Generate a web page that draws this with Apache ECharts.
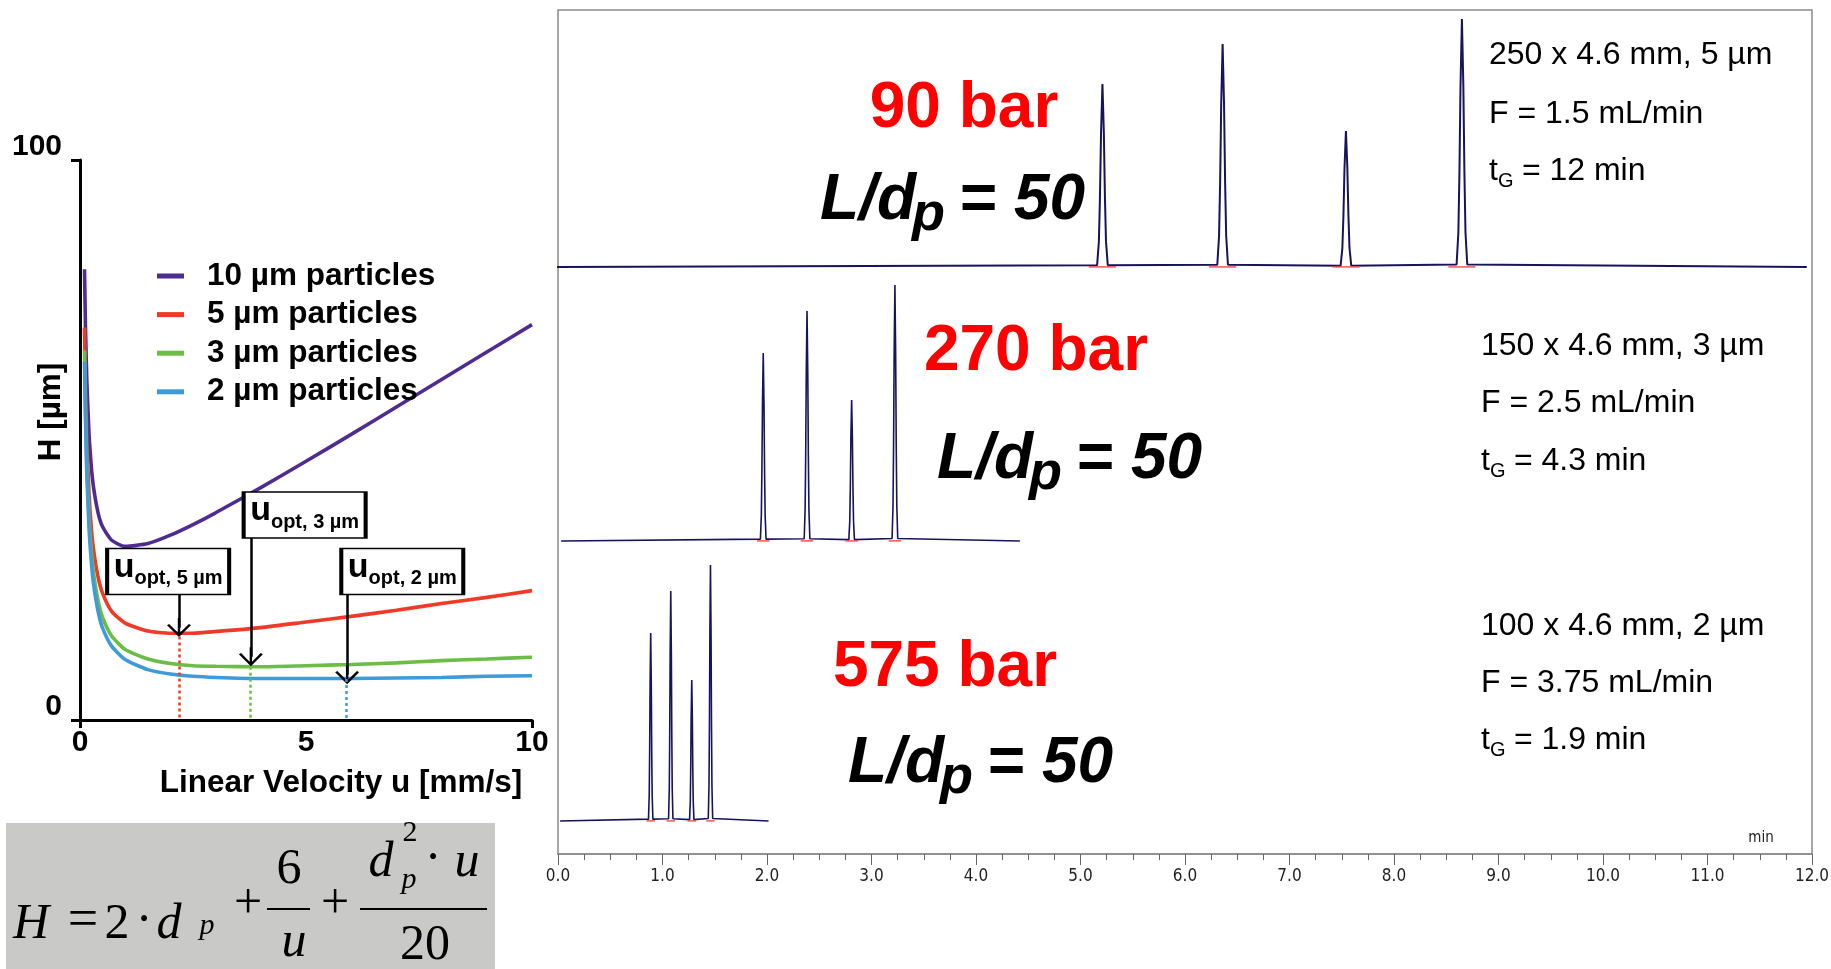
<!DOCTYPE html>
<html>
<head>
<meta charset="utf-8">
<title>van Deemter curves and chromatograms</title>
<script src="https://cdn.jsdelivr.net/npm/echarts@6.0.0/dist/echarts.min.js"></script>
<style>
  html, body { margin: 0; padding: 0; background: #fff; }
  #chart { width: 1831px; height: 969px; }
</style>
</head>
<body>
<div id="chart"></div>
<script>
// ---- left panel: plate height H [µm] vs linear velocity u [mm/s] ----
var velocity = [0.1, 0.12, 0.15, 0.2, 0.25, 0.3, 0.4, 0.5, 0.7, 1, 1.5, 2, 2.5, 3, 4, 5, 6, 7, 8, 9, 10];
var h10um = [80.5, 70.6, 60.8, 51.0, 45.3, 41.5, 37.0, 34.5, 32.1, 31.0, 31.5, 33.0, 34.9, 37.0, 41.5, 46.2, 51.0, 55.9, 60.8, 65.7, 70.6];
var h5um = [70.1, 60.2, 50.2, 40.3, 34.3, 30.4, 25.5, 22.6, 19.4, 17.3, 15.9, 15.5, 15.5, 15.8, 16.5, 17.5, 18.5, 19.6, 20.8, 21.9, 23.1];
var h3um = [66.0, 56.1, 46.1, 36.1, 30.3, 26.2, 21.3, 18.3, 15.0, 12.6, 10.9, 10.1, 9.7, 9.6, 9.5, 9.7, 9.9, 10.2, 10.6, 10.9, 11.2];
var h2um = [64.0, 54.0, 44.1, 34.2, 28.3, 24.3, 19.4, 16.4, 13.2, 10.8, 9.0, 8.2, 7.8, 7.6, 7.4, 7.4, 7.4, 7.5, 7.6, 7.8, 7.9];
var curveNames = ['10 µm particles', '5 µm particles', '3 µm particles', '2 µm particles'];
var curveColors = ['#4f2c92', '#ee3a26', '#6bbd45', '#3f9ad9'];

// optimum velocities marked for 5, 3 and 2 µm
var uOpt = [2.19, 3.76, 5.9];
var hMin = [14.9, 9.5, 7.3];
var uOptLabels = ['opt, 5 µm', 'opt, 3 µm', 'opt, 2 µm'];

// ---- right panel: chromatograms, time [min] ----
var timeTicks = [0, 12];
var trace90Range = [-0.05, 11.95];
var trace90Times = [5.21, 6.36, 7.54, 8.65];
var trace90Heights = [183, 223, 136, 248];
var trace270Range = [0.03, 4.42];
var trace270Times = [1.964, 2.383, 2.81, 3.224];
var trace270Heights = [188, 230, 141, 256];
var trace575Range = [0.02, 2.015];
var trace575Times = [0.887, 1.079, 1.28, 1.459];
var trace575Heights = [188, 230, 141, 256];

var pressureLabels = ['90 bar', '270 bar', '575 bar'];
var columnLabels = ['250 x 4.6 mm, 5 µm', '150 x 4.6 mm, 3 µm', '100 x 4.6 mm, 2 µm'];
var flowLabels = ['F = 1.5 mL/min', 'F = 2.5 mL/min', 'F = 3.75 mL/min'];
var gradientLabels = [' = 12 min', ' = 4.3 min', ' = 1.9 min'];

var SANS = "'Liberation Sans', Arial, sans-serif";
var NARROW = "'Liberation Sans Narrow', 'DejaVu Sans Condensed', 'Liberation Sans', sans-serif";
var SERIF = "'Liberation Serif', 'Times New Roman', serif";

// open arrow head with a short stem, pointing up (markLine rotates it)
var ARROW = 'path://M5,0 L10,7.5 L9.1,8.3 L5.5,2.9 L5.5,12 L4.5,12 L4.5,2.9 L0.9,8.3 L0,7.5 Z';

// drawing template for one chromatographic peak: [offset in sigmas, fraction of height]
var peakShape = [[-3, 0.01], [-2, 0.14], [-1.4, 0.38], [-0.8, 0.73], [0, 1], [0.8, 0.73], [1.4, 0.38], [2, 0.14], [3, 0.01]];

function buildTrace(range, times, heights, sigma) {
    var pts = [[range[0], 0]];
    times.forEach(function (t, i) {
        peakShape.forEach(function (p) {
            pts.push([t + p[0] * sigma, heights[i] * p[1]]);
        });
    });
    pts.push([range[1], 0]);
    return pts;
}

function buildMarks(times, half) {
    var pts = [];
    times.forEach(function (t) {
        pts.push([t - half, 0], [t + half, 0], [t + half, '-']);
    });
    return pts;
}

function zip(xs, ys) {
    return xs.map(function (x, i) { return [x, ys[i]]; });
}

var dom = document.getElementById('chart');
var myChart = echarts.init(dom, null, { renderer: 'canvas' });

// boxes + arrows + dotted drop lines for the optimum velocities
function optMarks(k, box, arrowFrom, arrowTip) {
    var color = curveColors[k + 1];
    return {
        markLine: {
            silent: true,
            animation: false,
            symbol: ['none', 'none'],
            label: { show: false },
            data: [
                [
                    { coord: [arrowFrom[0], arrowFrom[1]], symbol: 'none', lineStyle: { color: '#000', width: 2.5, type: 'solid' } },
                    { coord: [arrowFrom[0], arrowTip], symbol: ARROW, symbolSize: [24, 19] }
                ],
                [
                    { coord: [uOpt[k], hMin[k]], symbol: 'none', lineStyle: { color: color, width: 2.5, type: [3, 3] } },
                    { coord: [uOpt[k], 0], symbol: 'none' }
                ]
            ]
        },
        markPoint: {
            silent: true,
            animation: false,
            data: [{
                coord: box,
                symbol: 'rect',
                symbolSize: [122, 46],
                itemStyle: { color: '#fff', borderColor: '#000', borderWidth: 2.5 },
                label: {
                    show: true,
                    position: 'inside',
                    offset: [0, -4],
                    formatter: '{u|u}{s|' + uOptLabels[k] + '}',
                    rich: {
                        u: { fontSize: 34, fontWeight: 'bold', fontFamily: SANS, color: '#000', verticalAlign: 'top', lineHeight: 34 },
                        s: { fontSize: 20, fontWeight: 'bold', fontFamily: SANS, color: '#000', verticalAlign: 'top', lineHeight: 20, padding: [18, 0, 0, 0] }
                    }
                }
            }]
        }
    };
}

var curveData = [h10um, h5um, h3um, h2um];
var curveSeries = curveData.map(function (hs, i) {
    return {
        name: curveNames[i],
        type: 'line',
        xAxisIndex: 0,
        yAxisIndex: 0,
        data: zip(velocity, hs),
        showSymbol: false,
        smooth: 0.2,
        lineStyle: { color: curveColors[i], width: 3.6 },
        itemStyle: { color: curveColors[i] },
        z: 3
    };
});
Object.assign(curveSeries[1], optMarks(0, [1.95, 26.5], [2.19, 22.4], 16.5));
Object.assign(curveSeries[2], optMarks(1, [4.97, 36.6], [3.78, 32.5], 11.3));
Object.assign(curveSeries[3], optMarks(2, [7.13, 26.5], [5.91, 22.4], 8.1));

var traceColor = '#17145c';
function traceSeries(idx, data, width) {
    return {
        type: 'line', xAxisIndex: idx, yAxisIndex: idx, data: data,
        showSymbol: false, clip: false, lineStyle: { color: traceColor, width: width }, z: 2
    };
}
function markSeries(idx, data) {
    return {
        type: 'line', xAxisIndex: idx, yAxisIndex: idx, data: data, connectNulls: false,
        showSymbol: false, lineStyle: { color: '#ff3b3b', width: 1.6 }, z: 3
    };
}

var chromSeries = [
    traceSeries(2, buildTrace(trace90Range, trace90Times, trace90Heights, 0.017), 2),
    markSeries(2, buildMarks(trace90Times, 0.13)),
    traceSeries(3, buildTrace(trace270Range, trace270Times, trace270Heights, 0.009), 1.6),
    markSeries(3, buildMarks(trace270Times, 0.06)),
    traceSeries(4, buildTrace(trace575Range, trace575Times, trace575Heights, 0.007), 1.6),
    markSeries(4, buildMarks(trace575Times, 0.04))
];

// ---- free text: pressures, L/dp, column info, axis titles, equation ----
var graphics = [];
function text(x, y, str, size, opt) {
    opt = opt || {};
    graphics.push({
        type: 'text', x: x, y: y, rotation: opt.rotation || 0, z: 10,
        style: {
            text: str, fontSize: size, fontFamily: opt.family || SANS,
            fontWeight: opt.weight || 'normal', fontStyle: opt.style || 'normal',
            fill: opt.color || '#000',
            align: opt.align || 'left', verticalAlign: 'middle',
            textAlign: opt.align || 'left', textVerticalAlign: 'middle'
        }
    });
}

var pressurePos = [[964, 109], [1036, 352], [945, 668]];
var ldPos = [[820, 201], [937, 460], [848, 764]];
var infoPos = [[1489, [55, 114, 171]], [1481, [346, 403, 461]], [1481, [626, 683, 740]]];
pressureLabels.forEach(function (lab, i) {
    text(pressurePos[i][0], pressurePos[i][1], lab, 64, { weight: 'bold', color: '#ff0000', align: 'center' });
    var x0 = ldPos[i][0], yc = ldPos[i][1];
    text(x0, yc, 'L/d', 64, { weight: 'bold', style: 'italic' });
    text(x0 + 92, yc + 14, 'p', 54, { weight: 'bold', style: 'italic' });
    text(x0 + 121, yc, ' = 50', 64, { weight: 'bold', style: 'italic' });
    var ix = infoPos[i][0], rows = infoPos[i][1];
    text(ix, rows[0], columnLabels[i], 32);
    text(ix, rows[1], flowLabels[i], 32);
    text(ix, rows[2], 't', 32);
    text(ix + 9, rows[2] + 10, 'G', 20);
    text(ix + 24, rows[2], gradientLabels[i], 32);
});
text(1761, 838, 'min', 15, { family: NARROW, color: '#222', align: 'center' });

text(341, 783, 'Linear Velocity u [mm/s]', 31.5, { weight: 'bold', align: 'center' });
text(51, 412, 'H [µm]', 31.5, { weight: 'bold', align: 'center', rotation: Math.PI / 2 });

// equation box
graphics.push({ type: 'rect', z: 5, shape: { x: 6, y: 823, width: 489, height: 146 }, style: { fill: '#c9cac7' } });
function eq(x, y, str, size, italic) {
    text(x, y, str, size, { family: SERIF, style: italic ? 'italic' : 'normal', align: 'center' });
}
eq(31, 925, 'H', 50, true);
eq(83, 922, '=', 54, false);
eq(117, 925, '2', 50, false);
eq(144, 922, '·', 50, false);
eq(169, 925, 'd', 50, true);
eq(207, 926, 'p', 30, true);
eq(248, 905, '+', 50, false);
eq(289, 870, '6', 50, false);
eq(294, 943, 'u', 50, true);
eq(335, 905, '+', 50, false);
eq(381, 863, 'd', 50, true);
eq(410, 833, '2', 30, false);
eq(409, 880, 'p', 30, true);
eq(433, 860, '·', 50, false);
eq(467, 863, 'u', 50, true);
eq(425, 946, '20', 50, false);
graphics.push({ type: 'line', z: 10, shape: { x1: 267, y1: 909, x2: 310, y2: 909 }, style: { stroke: '#000', lineWidth: 2 } });
graphics.push({ type: 'line', z: 10, shape: { x1: 360, y1: 909, x2: 487, y2: 909 }, style: { stroke: '#000', lineWidth: 2 } });

var hiddenX = function (g) { return { gridIndex: g, type: 'value', show: false, min: timeTicks[0], max: timeTicks[1] }; };
var hiddenY = function (g) { return { gridIndex: g, type: 'value', show: false, min: 0, max: 260 }; };

var option = {
    animation: false,
    backgroundColor: '#fff',
    grid: [
        { left: 80, top: 160, width: 452, height: 560, outerBoundsMode: 'none' },
        { left: 558, top: 10, width: 1254, height: 844, show: true, borderColor: '#8a8a8a', borderWidth: 1.5, backgroundColor: 'transparent', outerBoundsMode: 'none' },
        { left: 558, top: 7, width: 1254, height: 260, outerBoundsMode: 'none' },
        { left: 558, top: 281, width: 1254, height: 260, outerBoundsMode: 'none' },
        { left: 558, top: 561, width: 1254, height: 260, outerBoundsMode: 'none' }
    ],
    legend: {
        orient: 'vertical',
        left: 152,
        top: 255,
        itemWidth: 27,
        itemHeight: 5,
        itemGap: 6.6,
        icon: 'rect',
        selectedMode: false,
        data: curveNames,
        textStyle: { fontSize: 31.5, fontWeight: 'bold', color: '#000', fontFamily: SANS, lineHeight: 31, padding: [0, 0, 0, 18] }
    },
    xAxis: [
        {
            gridIndex: 0, type: 'value', min: 0, max: 10, interval: 5,
            axisLine: { show: true, lineStyle: { color: '#000', width: 3 } },
            axisTick: { show: true, length: 8, customValues: [0, 10], lineStyle: { color: '#000', width: 3 } },
            axisLabel: { fontSize: 30, fontWeight: 'bold', color: '#000', fontFamily: SANS, margin: 8 },
            splitLine: { show: false }
        },
        {
            gridIndex: 1, type: 'value', min: timeTicks[0], max: timeTicks[1], interval: 1,
            axisLine: { show: true, lineStyle: { color: '#8a8a8a', width: 1.5 } },
            axisTick: { show: true, length: 11, lineStyle: { color: '#666', width: 1 } },
            minorTick: { show: true, splitNumber: 4, length: 6, lineStyle: { color: '#666', width: 1 } },
            axisLabel: {
                fontSize: 17, color: '#222', fontFamily: NARROW, margin: 14,
                formatter: function (v) { return v.toFixed(1); }
            },
            splitLine: { show: false },
            minorSplitLine: { show: false }
        },
        hiddenX(2), hiddenX(3), hiddenX(4)
    ],
    yAxis: [
        {
            gridIndex: 0, type: 'value', min: 0, max: 100, interval: 100,
            axisLine: { show: true, lineStyle: { color: '#000', width: 3 } },
            axisTick: { show: true, length: 9, lineStyle: { color: '#000', width: 3 } },
            axisLabel: { fontSize: 30, fontWeight: 'bold', color: '#000', fontFamily: SANS, margin: 18, verticalAlign: 'bottom', lineHeight: 26 },
            splitLine: { show: false }
        },
        { gridIndex: 1, type: 'value', show: false, min: 0, max: 1 },
        hiddenY(2), hiddenY(3), hiddenY(4)
    ],
    graphic: graphics,
    series: curveSeries.concat(chromSeries)
};

if (option && typeof option === 'object') {
    myChart.setOption(option);
}

window.addEventListener('resize', myChart.resize);
</script>
</body>
</html>
